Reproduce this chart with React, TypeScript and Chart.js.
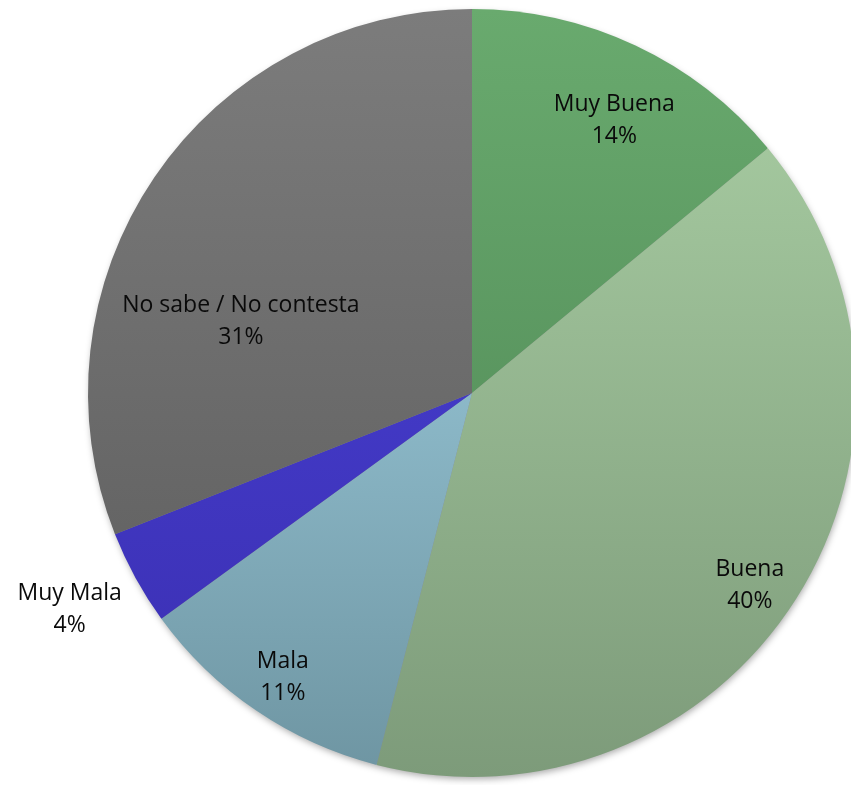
import { useEffect, useRef } from "react";
import { Chart, registerables } from "chart.js";

Chart.register(...registerables);

const categories = ["Muy Buena", "Buena", "Mala", "Muy Mala", "No sabe / No contesta"];
const values = [14, 40, 11, 4, 31];
const percentLabels = ["14%", "40%", "11%", "4%", "31%"];

// gradient colours (top of pie -> bottom of pie)
const colorTop = ["#69aa6e", "#abd0a5", "#aadcee", "#4a44da", "#7c7c7c"];
const colorBottom = ["#4b8251", "#7d9b7a", "#6e95a2", "#3a2eb0", "#5a5a5a"];

// label placement: fraction of radius, angle offset in degrees
const labelRadius = [0.8, 0.88, 0.89, 1.19, 0.63];
const labelAngleOffset = [2.4, 2.3, -0.6, 0.5, -17];

const shadowPlugin = {
  id: "pieShadow",
  beforeDatasetsDraw(chart: any) {
    const meta = chart.getDatasetMeta(0);
    const arc = meta.data[0];
    if (!arc) return;
    const ctx = chart.ctx;
    ctx.save();
    ctx.shadowColor = "rgba(0,0,0,0.35)";
    ctx.shadowBlur = 7;
    ctx.shadowOffsetX = 1;
    ctx.shadowOffsetY = 3;
    ctx.fillStyle = "#888";
    ctx.beginPath();
    ctx.arc(arc.x, arc.y, arc.outerRadius - 1, 0, Math.PI * 2);
    ctx.fill();
    ctx.restore();
  },
};

const labelPlugin = {
  id: "sliceLabels",
  afterDatasetsDraw(chart: any) {
    const meta = chart.getDatasetMeta(0);
    const ctx = chart.ctx;
    ctx.save();
    ctx.font = "23px 'Open Sans', Lato, sans-serif";
    ctx.fillStyle = "#0a0a0a";
    ctx.textAlign = "center";
    ctx.textBaseline = "middle";
    meta.data.forEach((arc: any, i: number) => {
      const mid = (arc.startAngle + arc.endAngle) / 2 + (labelAngleOffset[i] * Math.PI) / 180;
      const r = arc.outerRadius * labelRadius[i];
      const x = arc.x + Math.cos(mid) * r;
      const y = arc.y + Math.sin(mid) * r;
      ctx.fillText(categories[i], x, y - 16);
      ctx.fillText(percentLabels[i], x, y + 16);
    });
    ctx.restore();
  },
};

export default function App() {
  const ref = useRef<HTMLCanvasElement | null>(null);

  useEffect(() => {
    document.body.style.margin = "0";
    const canvas = ref.current;
    if (!canvas) return;
    const chart = new Chart(canvas, {
      type: "pie",
      data: {
        labels: categories,
        datasets: [
          {
            data: values,
            borderWidth: 0,
            backgroundColor: (c: any) => {
              const area = c.chart.chartArea;
              if (!area) return colorTop[c.dataIndex];
              const g = c.chart.ctx.createLinearGradient(0, area.top, 0, area.bottom);
              g.addColorStop(0, colorTop[c.dataIndex]);
              g.addColorStop(1, colorBottom[c.dataIndex]);
              return g;
            },
          },
        ],
      },
      options: {
        animation: false,
        responsive: false,
        layout: { padding: { left: 88, right: 8, top: 9, bottom: 8 } },
        plugins: {
          legend: { display: false },
          tooltip: { enabled: false },
        },
      },
      plugins: [shadowPlugin, labelPlugin],
    });
    return () => chart.destroy();
  }, []);

  return (
    <div style={{ width: 851, height: 785, overflow: "hidden", background: "#fff" }}>
      <canvas ref={ref} width={864} height={785} style={{ display: "block" }} />
    </div>
  );
}
